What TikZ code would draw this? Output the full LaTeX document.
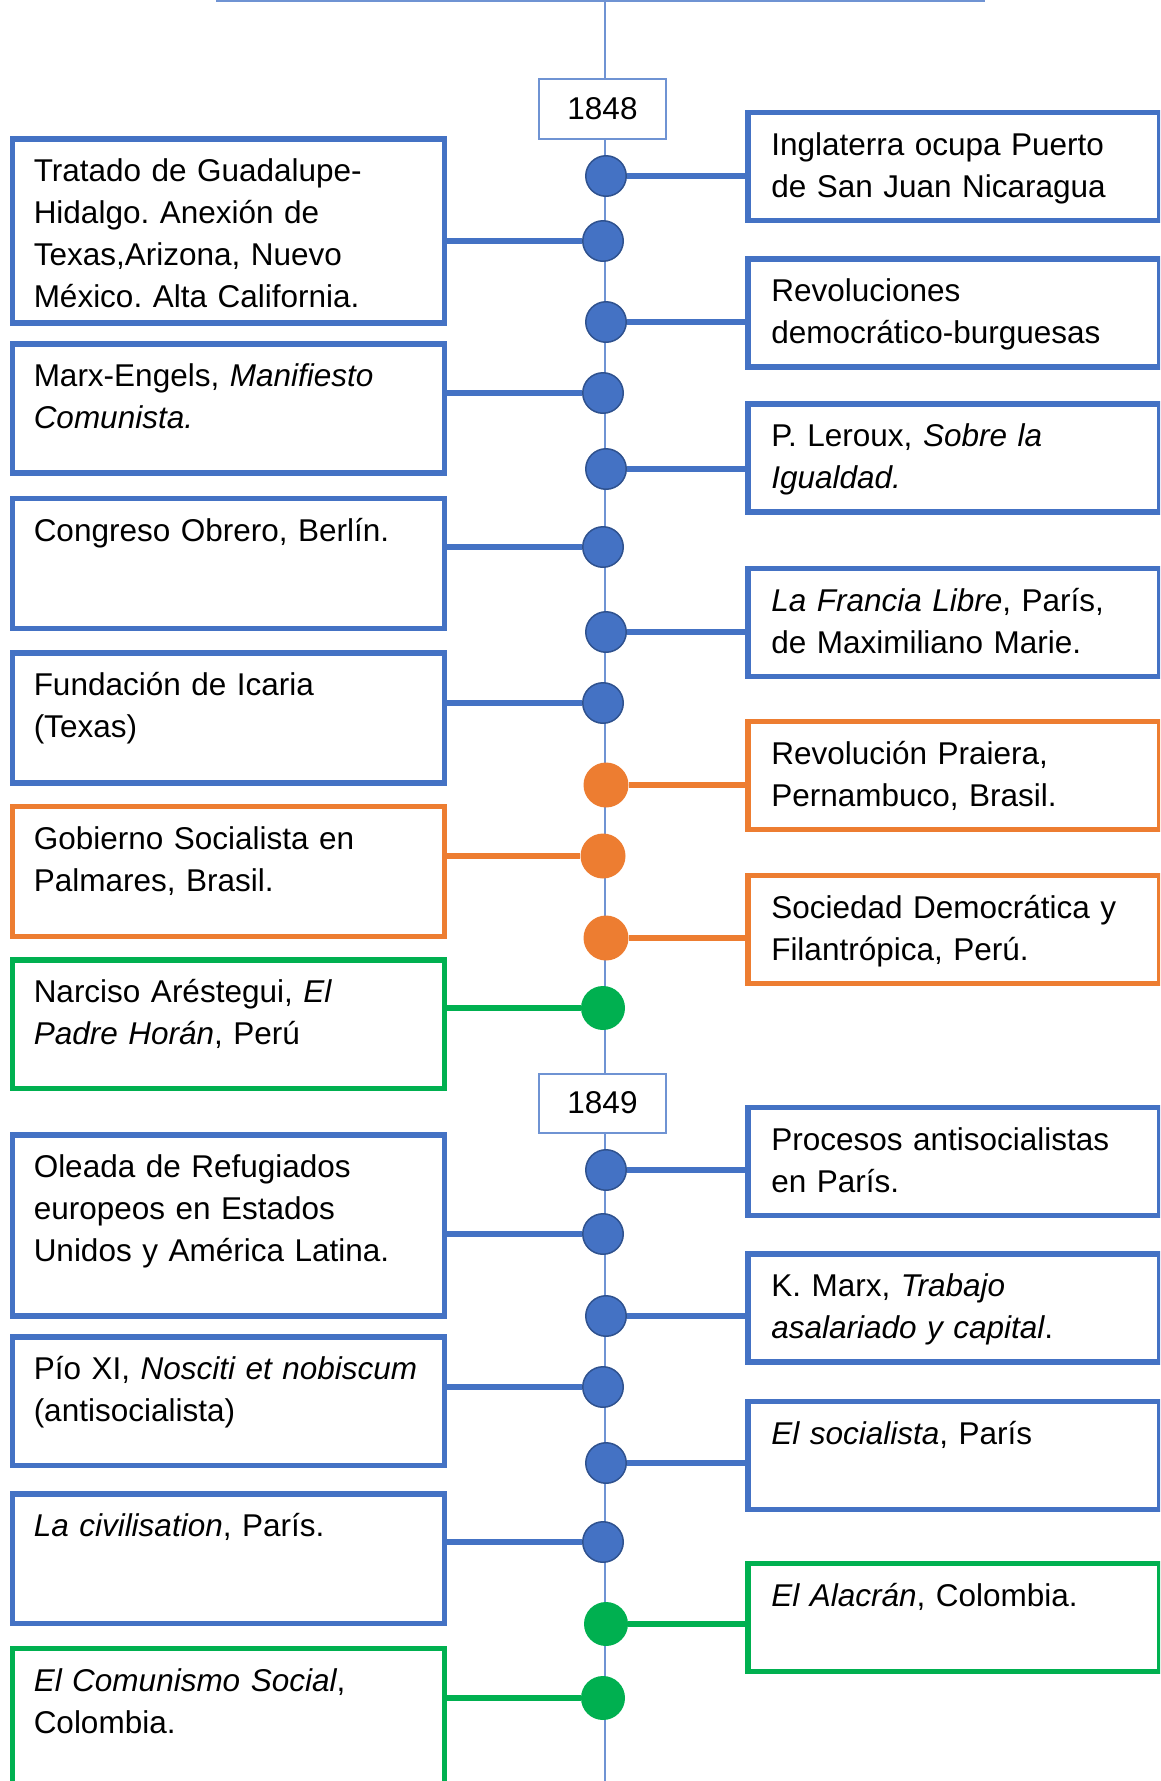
\documentclass[tikz,border=0pt]{standalone}
\usepackage{fontspec}
\setmainfont{Liberation Sans}
\usepackage{tikz}
\usepackage{xcolor}
\definecolor{tlblue}{HTML}{4472C4}
\definecolor{tldark}{HTML}{2F528F}
\definecolor{tlline}{HTML}{6F93D3}
\definecolor{tlorange}{HTML}{ED7D31}
\definecolor{tlgreen}{HTML}{00B050}
\frenchspacing

\begin{document}
\begin{tikzpicture}[
        x=1pt, y=-1pt,
        event/.style={
          draw=tlblue,
          rectangle,
          line width=5.5pt,
          anchor=north west,
          inner ysep=0pt,
          align=left,
          text height=43pt,
          font=\fontsize{31.5}{42}\selectfont
        },
        leftbox/.style={event, inner xsep=21.5pt, text width=389pt, text depth=#1},
        rightbox/.style={event, inner xsep=23.5pt, text width=365pt, text depth=65pt},
        year/.style={
          draw=tlline,
          line width=2pt,
          fill=white,
          rectangle,
          minimum width=127pt,
          inner sep=0pt,
          font=\fontsize{31.5}{42}\selectfont
        },
        dot/.style={circle, inner sep=0pt, minimum size=#1},
        bluedot/.style={dot=40.5pt, fill=tlblue, draw=tldark, line width=1.5pt},
        orangedot/.style={dot=45pt, fill=tlorange},
        greendot/.style={dot=44pt, fill=tlgreen},
        link/.style={line width=5.5pt, draw=#1},
        axis/.style={line width=1.8pt, draw=tlline}
      ]
      \path[use as bounding box, clip] (0,0) rectangle (1160,1781);

      % Timeline axis
      \coordinate (barl) at (216,1);
      \coordinate (barr) at (985,1);
      \coordinate (top) at (605,0);
      \coordinate (bottom) at (605,1781);
      \draw[axis] (barl) -- (barr);
      \draw[axis] (top) -- (bottom);

      % Years
      \node[year, minimum height=60pt] (y1848) at (602.5,109) {1848};
      \node[year, minimum height=59pt] (y1849) at (602.5,1103) {1849};

      % Left events
      \node[leftbox=141pt] (guadalupe) at (9.5,136) {Tratado de Guadalupe-\\Hidalgo. Anexión de\\Texas,Arizona, Nuevo\\México. Alta California.};
      \node[leftbox=86pt] (manifiesto) at (9.5,341) {Marx-Engels, \textit{Manifiesto}\\\textit{Comunista.}};
      \node[leftbox=87pt] (congreso) at (9.5,495.5) {Congreso Obrero, Berlín.};
      \node[leftbox=87pt] (icaria) at (9.5,650) {Fundación de Icaria\\(Texas)};
      \node[leftbox=87pt, draw=tlorange] (palmares) at (9.5,803.5) {Gobierno Socialista en\\Palmares, Brasil.};
      \node[leftbox=85.5pt, draw=tlgreen] (horan) at (9.5,957) {Narciso Aréstegui, \textit{El}\\\textit{Padre Horán}, Perú};
      \node[leftbox=138pt] (refugiados) at (9.5,1132) {Oleada de Refugiados\\europeos en Estados\\Unidos y América Latina.};
      \node[leftbox=85.5pt] (nosciti) at (9.5,1334) {Pío XI, \textit{Nosciti et nobiscum}\\(antisocialista)};
      \node[leftbox=86.5pt] (civilisation) at (9.5,1491) {\textit{La civilisation}, París.};
      \node[leftbox=110pt, draw=tlgreen] (comunismo) at (9.5,1645.5) {\textit{El Comunismo Social},\\Colombia.};

      % Right events
      \node[rightbox] (nicaragua) at (745,109.5) {Inglaterra ocupa Puerto\\de San Juan Nicaragua};
      \node[rightbox] (revoluciones) at (745,256) {Revoluciones\\democrático-burguesas};
      \node[rightbox] (leroux) at (745,401) {P. Leroux, \textit{Sobre la}\\\textit{Igualdad.}};
      \node[rightbox] (francia) at (745,565.5) {\textit{La Francia Libre}, París,\\de Maximiliano Marie.};
      \node[rightbox, draw=tlorange] (praiera) at (745,718.5) {Revolución Praiera,\\Pernambuco, Brasil.};
      \node[rightbox, draw=tlorange] (filantropica) at (745,872.5) {Sociedad Democrática y\\Filantrópica, Perú.};
      \node[rightbox] (procesos) at (745,1104.5) {Procesos antisocialistas\\en París.};
      \node[rightbox] (trabajo) at (745,1251) {K. Marx, \textit{Trabajo}\\\textit{asalariado y capital}.};
      \node[rightbox] (socialista) at (745,1398.5) {\textit{El socialista}, París};
      \node[rightbox, draw=tlgreen] (alacran) at (745,1560.5) {\textit{El Alacrán}, Colombia.};

      % Dots on the axis
      \node[bluedot] (dr1) at (606,176) {};
      \node[bluedot] (dl1) at (603,241) {};
      \node[bluedot] (dr2) at (606,322) {};
      \node[bluedot] (dl2) at (603,393) {};
      \node[bluedot] (dr3) at (606,469) {};
      \node[bluedot] (dl3) at (603,547) {};
      \node[bluedot] (dr4) at (606,632) {};
      \node[bluedot] (dl4) at (603,703) {};
      \node[orangedot] (dr5) at (606,785) {};
      \node[orangedot] (dl5) at (603,856) {};
      \node[orangedot] (dr6) at (606,938) {};
      \node[greendot] (dl6) at (603,1008) {};
      \node[bluedot] (dr7) at (606,1170) {};
      \node[bluedot] (dl7) at (603,1234) {};
      \node[bluedot] (dr8) at (606,1316) {};
      \node[bluedot] (dl8) at (603,1387) {};
      \node[bluedot] (dr9) at (606,1463) {};
      \node[bluedot] (dl9) at (603,1542) {};
      \node[greendot] (dr10) at (606,1624) {};
      \node[greendot] (dl10) at (603,1698) {};

      % Connections to the left boxes
      \draw[link=tlblue] (guadalupe.east |- dl1) -- (dl1.west);
      \draw[link=tlblue] (manifiesto.east |- dl2) -- (dl2.west);
      \draw[link=tlblue] (congreso.east |- dl3) -- (dl3.west);
      \draw[link=tlblue] (icaria.east |- dl4) -- (dl4.west);
      \draw[link=tlorange] (palmares.east |- dl5) -- (dl5.west);
      \draw[link=tlgreen] (horan.east |- dl6) -- (dl6.west);
      \draw[link=tlblue] (refugiados.east |- dl7) -- (dl7.west);
      \draw[link=tlblue] (nosciti.east |- dl8) -- (dl8.west);
      \draw[link=tlblue] (civilisation.east |- dl9) -- (dl9.west);
      \draw[link=tlgreen] (comunismo.east |- dl10) -- (dl10.west);

      % Connections to the right boxes
      \draw[link=tlblue] (dr1.east) -- (dr1 -| nicaragua.west);
      \draw[link=tlblue] (dr2.east) -- (dr2 -| revoluciones.west);
      \draw[link=tlblue] (dr3.east) -- (dr3 -| leroux.west);
      \draw[link=tlblue] (dr4.east) -- (dr4 -| francia.west);
      \draw[link=tlorange] (dr5.east) -- (dr5 -| praiera.west);
      \draw[link=tlorange] (dr6.east) -- (dr6 -| filantropica.west);
      \draw[link=tlblue] (dr7.east) -- (dr7 -| procesos.west);
      \draw[link=tlblue] (dr8.east) -- (dr8 -| trabajo.west);
      \draw[link=tlblue] (dr9.east) -- (dr9 -| socialista.west);
      \draw[link=tlgreen] (dr10.east) -- (dr10 -| alacran.west);

    \end{tikzpicture}
\end{document}
